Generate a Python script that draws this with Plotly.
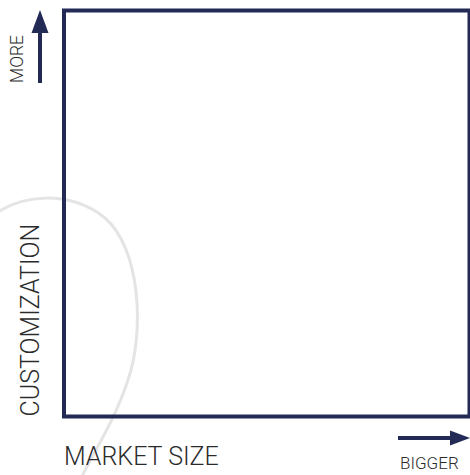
import plotly.graph_objects as go

# Chart content (a blank positioning matrix)
x_axis_label = ["MARKET SIZE"]
y_axis_label = ["CUSTOMIZATION"]
x_direction = ["BIGGER"]
y_direction = ["MORE"]

NAVY = "#232a56"
TEXT = "#2b2b2b"
FONT = "Roboto"

fig = go.Figure()

fig.update_layout(
    width=470, height=475,
    margin=dict(l=0, r=0, t=0, b=0),
    paper_bgcolor="white", plot_bgcolor="white",
    showlegend=False,
    xaxis=dict(range=[0, 470], visible=False, domain=[0, 1], fixedrange=True),
    yaxis=dict(range=[475, 0], visible=False, domain=[0, 1], fixedrange=True),
)

shapes = []
# faint decorative curve in background
shapes.append(dict(type="path", xref="x", yref="y",
                   path="M -10,218 C 20,193 70,190 105,218 C 140,248 145,330 128,380 C 115,420 95,450 80,480",
                   line=dict(color="#e4e4e4", width=3), layer="below"))
# frame
shapes.append(dict(type="rect", xref="x", yref="y", x0=64, y0=10.5, x1=469.5, y1=416.5,
                   line=dict(color=NAVY, width=4)))
# up arrow
shapes.append(dict(type="line", xref="x", yref="y", x0=40, y0=83, x1=40, y1=30,
                   line=dict(color=NAVY, width=4)))
shapes.append(dict(type="path", xref="x", yref="y", path="M 31.5,33 L 40,10 L 48.5,33 Z",
                   fillcolor=NAVY, line=dict(color=NAVY, width=0)))
# right arrow
shapes.append(dict(type="line", xref="x", yref="y", x0=398, y0=438, x1=452, y1=438,
                   line=dict(color=NAVY, width=4)))
shapes.append(dict(type="path", xref="x", yref="y", path="M 450,430.5 L 470,438 L 450,445.5 Z",
                   fillcolor=NAVY, line=dict(color=NAVY, width=0)))
fig.update_layout(shapes=shapes)

ann = []
ann.append(dict(text=x_axis_label[0], x=62, y=456, xref="x", yref="y",
                xanchor="left", yanchor="middle", showarrow=False,
                font=dict(family=FONT, size=25, color=TEXT, weight=300)))
ann.append(dict(text=y_axis_label[0], x=30, y=419, xref="x", yref="y",
                xanchor="center", yanchor="bottom", textangle=-90, showarrow=False,
                font=dict(family=FONT, size=25, color=TEXT, weight=300)))
ann.append(dict(text=y_direction[0], x=17, y=85, xref="x", yref="y",
                xanchor="center", yanchor="bottom", textangle=-90, showarrow=False,
                font=dict(family=FONT, size=17.5, color=TEXT, weight=300)))
ann.append(dict(text=x_direction[0], x=398, y=475, xref="x", yref="y",
                xanchor="left", yanchor="bottom", showarrow=False,
                font=dict(family=FONT, size=17, color=TEXT, weight=300)))
fig.update_layout(annotations=ann)

fig.write_html(
    "out.html",
    config={"displayModeBar": False, "staticPlot": True},
    post_script="document.body.style.margin='0';document.body.style.overflow='hidden';",
)
